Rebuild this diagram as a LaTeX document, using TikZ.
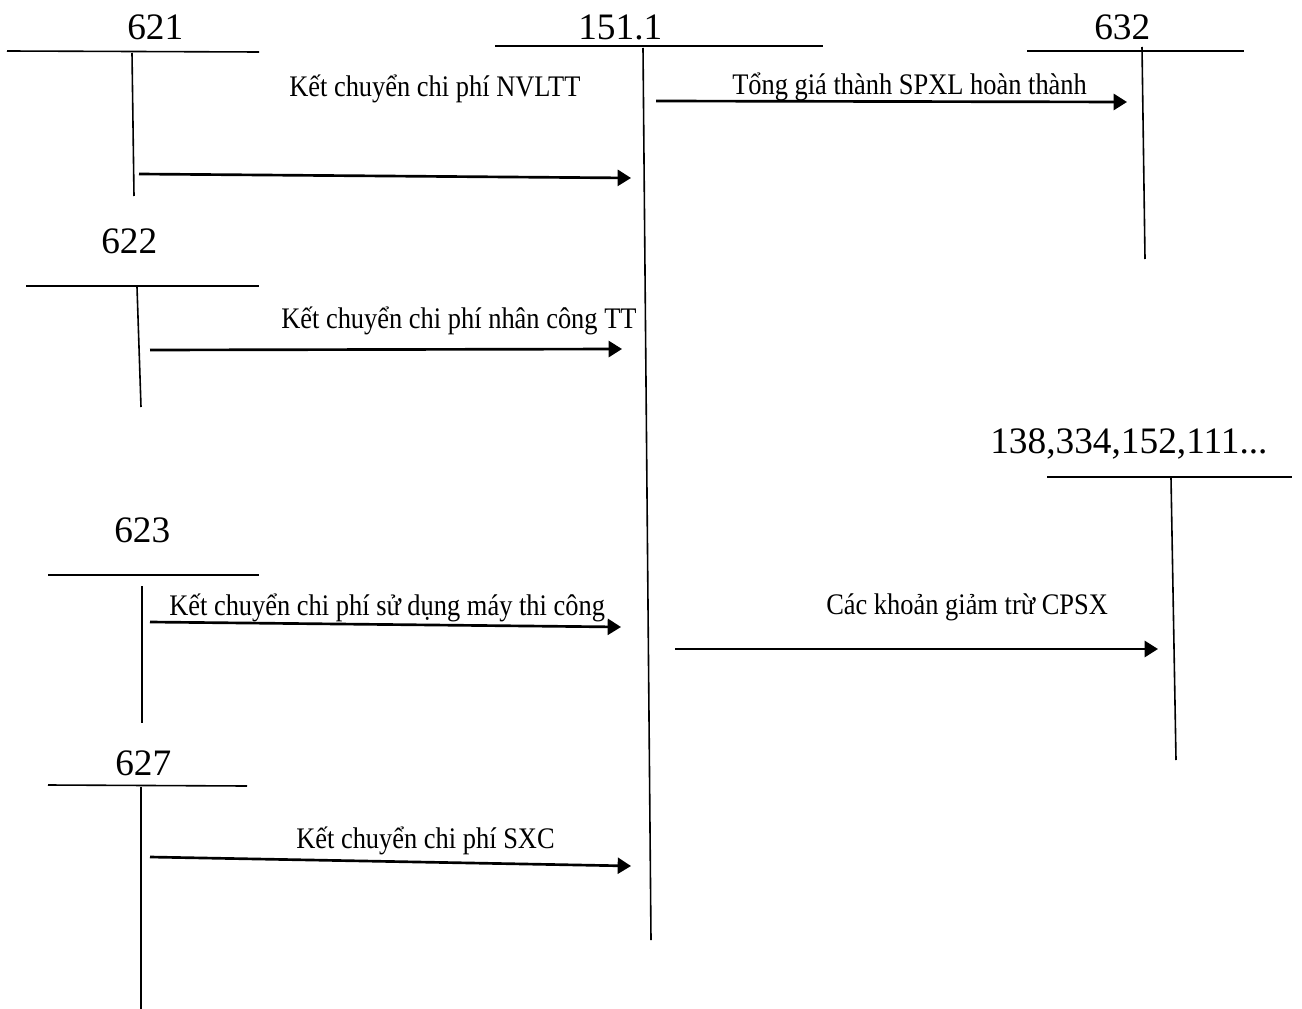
\documentclass[tikz,border=0pt]{standalone}
\usepackage{fontspec}
\setmainfont{Liberation Serif}
\newfontfamily\tallserif{Liberation Serif}[FakeStretch=0.885]
\usetikzlibrary{arrows.meta}

\begin{document}
\begin{tikzpicture}[x=0.75pt, y=-0.75pt,
    acc/.style={font=\fontsize{28}{32}\selectfont, anchor=base west, inner sep=0pt},
    lbl/.style={font=\tallserif\fontsize{22.4}{26}\selectfont, anchor=base west, inner sep=0pt},
    tl/.style={line width=1.2pt},
    arr/.style={-{Triangle[length=10pt,width=12pt]}, line width=2pt}]
    \useasboundingbox (0,0) rectangle (1302,1009);
    % accounts
    \node[acc] (a621) at (127,40) {621};
    \node[acc] (a151) at (578,40) {151.1};
    \node[acc] (a632) at (1094,40) {632};
    \node[acc] (a622) at (101,253) {622};
    \node[acc] (a138) at (990,453) {138,334,152,111...};
    \node[acc] (a623) at (114,542) {623};
    \node[acc] (a627) at (115,775) {627};
    \draw[tl] (7,51) -- (259,52);   \draw[tl] (132,53) -- (134,196);
    \draw[tl] (495,46) -- (823,46); \draw[tl] (643,48) -- (651,940);
    \draw[tl] (1027,51) -- (1244,51); \draw[tl] (1142,47) -- (1145,259);
    \draw[tl] (26,286) -- (259,286); \draw[tl] (137,287) -- (141,407);
    \draw[tl] (1047,477) -- (1292,477); \draw[tl] (1171,478) -- (1176,760);
    \draw[tl] (48,575) -- (259,575); \draw[tl] (142,586) -- (142,723);
    \draw[tl] (48,785) -- (247,786); \draw[tl] (141,787) -- (141,1009);
    % arrows
    \coordinate (s1) at (139,174); \coordinate (e1) at (631,178);
    \coordinate (s2) at (656,101); \coordinate (e2) at (1127,102);
    \coordinate (s3) at (150,350); \coordinate (e3) at (622,349);
    \coordinate (s4) at (150,622); \coordinate (e4) at (621,627);
    \coordinate (s5) at (675,649); \coordinate (e5) at (1158,649);
    \coordinate (s6) at (150,857); \coordinate (e6) at (631,866);
    \draw[arr](s1)--(e1);\draw[arr](s2)--(e2);\draw[arr](s3)--(e3);
    \draw[arr](s4)--(e4);\draw[arr](s5)--(e5);\draw[arr](s6)--(e6);
    % labels
    \node[lbl] (l1) at (289,97) {Kết chuyển chi phí NVLTT};
    \node[lbl] (l2) at (732,95) {Tổng giá thành SPXL hoàn thành};
    \node[lbl] (l3) at (281,328) {Kết chuyển chi phí nhân công TT};
    \node[lbl] (l4) at (169,615) {Kết chuyển chi phí sử dụng máy thi công};
    \node[lbl] (l5) at (826,614) {Các khoản giảm trừ CPSX};
    \node[lbl] (l6) at (296,848) {Kết chuyển chi phí SXC};
  \end{tikzpicture}
\end{document}
